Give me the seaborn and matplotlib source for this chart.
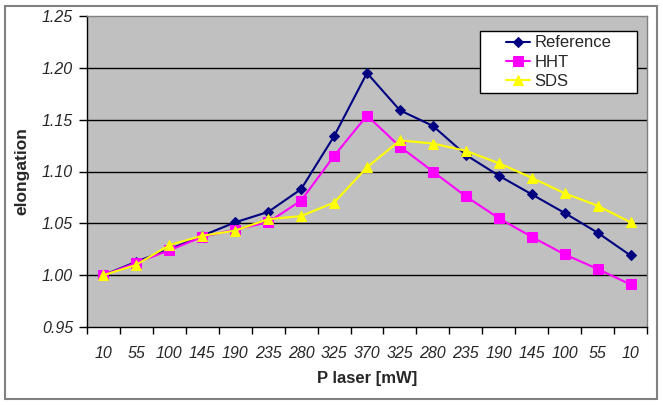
import matplotlib
matplotlib.use("Agg")
import matplotlib.pyplot as plt
import seaborn as sns
import pandas as pd
import numpy as np
from matplotlib.patches import Rectangle

categories = ["10", "55", "100", "145", "190", "235", "280", "325", "370",
              "325", "280", "235", "190", "145", "100", "55", "10"]
reference = [1.000, 1.013, 1.025, 1.038, 1.051, 1.061, 1.083, 1.134, 1.195,
             1.159, 1.144, 1.116, 1.096, 1.078, 1.060, 1.041, 1.019]
hht = [1.000, 1.012, 1.024, 1.037, 1.044, 1.051, 1.072, 1.115, 1.154,
       1.124, 1.100, 1.076, 1.055, 1.037, 1.020, 1.006, 0.991]
sds = [1.000, 1.010, 1.029, 1.038, 1.043, 1.054, 1.057, 1.070, 1.104,
       1.130, 1.127, 1.120, 1.108, 1.094, 1.079, 1.067, 1.051]
series_names = ["Reference", "HHT", "SDS"]
y_ticks = [0.95, 1.00, 1.05, 1.10, 1.15, 1.20, 1.25]

pos = list(range(len(categories)))
df = pd.concat([
    pd.DataFrame({"pos": pos, "value": vals, "series": name})
    for name, vals in zip(series_names, [reference, hht, sds])
])

sns.set_style("white")
plt.rcParams["font.family"] = ["Liberation Sans", "DejaVu Sans"]

fig = plt.figure(figsize=(6.63, 4.05), dpi=100)
fig.patch.set_facecolor("white")
ax = fig.add_axes([87/663, (405-327)/405, (647-87)/663, (327-16)/405])
ax.set_facecolor("#C0C0C0")

colors = {"Reference": "#000080", "HHT": "#FF00FF", "SDS": "#FFFF00"}
markers = {"Reference": "D", "HHT": "s", "SDS": "^"}
sizes = {"Reference": 5, "HHT": 7, "SDS": 7.5}

for h in y_ticks[1:-1]:
    ax.axhline(h, color="black", lw=1.0, zorder=1)

for name in series_names:
    sub = df[df["series"] == name]
    sns.lineplot(data=sub, x="pos", y="value", ax=ax, color=colors[name],
                 marker=markers[name], markersize=sizes[name],
                 markeredgecolor=colors[name], lw=1.5, label=name, zorder=3)

ax.set_xlim(-0.5, len(categories) - 0.5)
ax.set_ylim(0.95, 1.25)
ax.set_yticks(y_ticks)
ax.set_yticklabels([f"{v:.2f}" for v in y_ticks], fontstyle="italic", fontsize=11.5)

ax.set_xticks(np.arange(-0.5, len(categories), 1.0))
ax.set_xticklabels([])
ax.set_xticks(pos, minor=True)
ax.set_xticklabels(categories, minor=True, fontstyle="italic", fontsize=11.5)
ax.tick_params(axis="x", which="major", direction="out", length=5, width=1, color="black", bottom=True)
ax.tick_params(axis="x", which="minor", length=0, pad=14)
ax.tick_params(axis="y", direction="out", length=6, width=1, color="black", left=True, pad=4)

for side in ["top", "right"]:
    ax.spines[side].set_visible(True)
    ax.spines[side].set_color("#808080")
    ax.spines[side].set_linewidth(1.0)
for side in ["left", "bottom"]:
    ax.spines[side].set_visible(True)
    ax.spines[side].set_color("black")
    ax.spines[side].set_linewidth(1.0)

ax.set_xlabel("P laser [mW]", fontsize=12, fontweight="bold", labelpad=7)
ax.set_ylabel("elongation", fontsize=12.5, fontweight="bold", labelpad=9)

# legend frame box (Excel style)
lx0, lx1, ly0, ly1 = 480, 637, 31, 93
frame = Rectangle((lx0/663, (405-ly1)/405), (lx1-lx0)/663, (ly1-ly0)/405,
                  transform=fig.transFigure, facecolor="white", edgecolor="black",
                  lw=1.0, zorder=4)
ax.add_artist(frame)
frame.set_clip_on(False)

leg = ax.legend(loc="center", bbox_to_anchor=((lx0+lx1)/2/663, (405-(ly0+ly1)/2)/405),
                bbox_transform=fig.transFigure, frameon=False, fontsize=12,
                handlelength=1.45, handletextpad=0.25, borderpad=0.0, labelspacing=0.25,
                borderaxespad=0)
leg.set_zorder(5)

fig.patches.append(Rectangle((5/663, 6/405), (657-5)/663, (399-6)/405,
                             transform=fig.transFigure, fill=False,
                             edgecolor="#808080", lw=1.5))

fig.savefig("out.png", dpi=100)
